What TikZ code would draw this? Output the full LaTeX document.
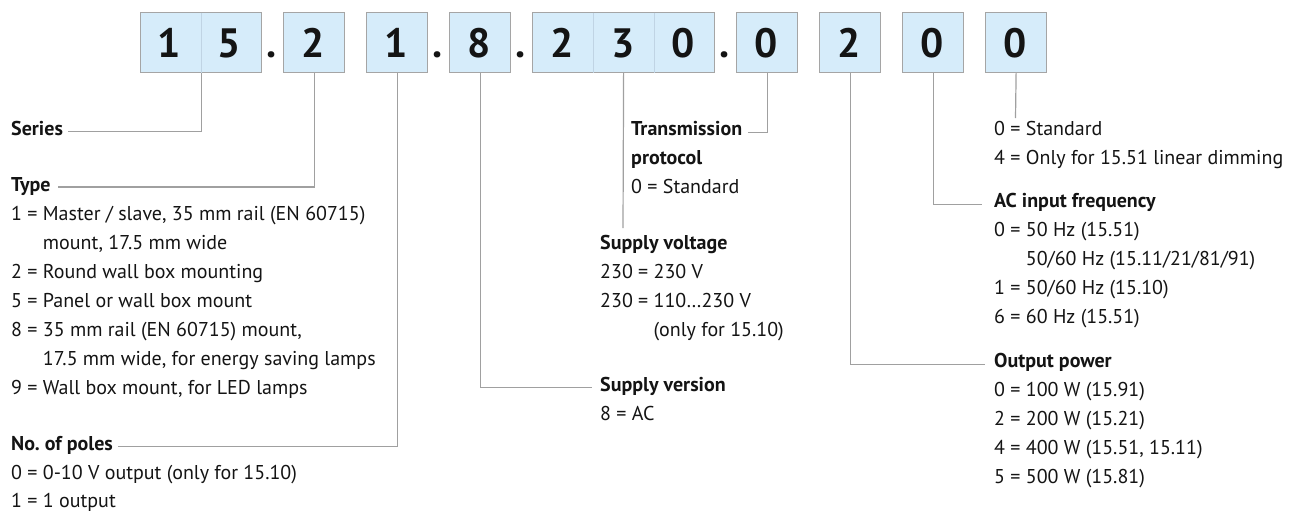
\documentclass[tikz,border=0pt]{standalone}
\usepackage{fontspec}
\setmainfont{PT Sans}
\usetikzlibrary{calc}
\definecolor{boxfill}{RGB}{214,236,250}
\definecolor{boxline}{RGB}{165,165,165}
\definecolor{connline}{RGB}{160,160,160}
\definecolor{divline}{RGB}{192,212,228}
\definecolor{ink}{RGB}{20,20,20}
\frenchspacing
\begin{document}
\begin{tikzpicture}[x=1pt,y=-1pt,
  digitbox/.style={draw=boxline, fill=boxfill, line width=1.2pt, minimum height=60pt, inner sep=0pt, anchor=north west},
  divider/.style={draw=divline, line width=1pt, shorten >=0.7pt, shorten <=0.7pt},
  digit/.style={font=\fontsize{41}{41}\selectfont\bfseries, anchor=base, inner sep=0pt, text=ink},
  conn/.style={draw=connline, line width=1.2pt},
  txt/.style={font=\fontsize{20}{24}\selectfont, anchor=base west, inner sep=0pt, text=ink},
  ttl/.style={font=\fontsize{20}{24}\selectfont\bfseries, anchor=base west, inner sep=0pt, text=ink},
]
\useasboundingbox (0,0) rectangle (1292,512);

% digit boxes
\node[digitbox, minimum width=121pt] (b15) at (140,12) {};
\node[digitbox, minimum width=61pt] (b2) at (283,12) {};
\node[digitbox, minimum width=61pt] (b1) at (366,12) {};
\node[digitbox, minimum width=61pt] (b8) at (449,12) {};
\node[digitbox, minimum width=182pt] (b230) at (532,12) {};
\node[digitbox, minimum width=61pt] (b0a) at (736,12) {};
\node[digitbox, minimum width=61pt] (b2b) at (819,12) {};
\node[digitbox, minimum width=61pt] (b0c) at (902,12) {};
\node[digitbox, minimum width=61pt] (b0d) at (985,12) {};

\draw[divider] (b15.north) -- (b15.south);
\draw[divider] ($(b230.north west)!1/3!(b230.north east)$) -- ($(b230.south west)!1/3!(b230.south east)$);
\draw[divider] ($(b230.north west)!2/3!(b230.north east)$) -- ($(b230.south west)!2/3!(b230.south east)$);

% digits
\node[digit] (d1) at (169,57) {1};
\node[digit] (d2) at (229,57) {5};
\node[digit] (d3) at (313.5,57) {2};
\node[digit] (d4) at (396.5,57) {1};
\node[digit] (d5) at (479.5,57) {8};
\node[digit] (d6) at (562.5,57) {2};
\node[digit] (d7) at (623,57) {3};
\node[digit] (d8) at (683.5,57) {0};
\node[digit] (d9) at (766.5,57) {0};
\node[digit] (d10) at (849.5,57) {2};
\node[digit] (d11) at (932.5,57) {0};
\node[digit] (d12) at (1015.5,57) {0};
% dots
\node[digit] (p1) at (272,57) {.};
\node[digit] (p2) at (438,57) {.};
\node[digit] (p3) at (520.5,57) {.};
\node[digit] (p4) at (725,57) {.};

% left column
\node[ttl] (series) at (11,135) {Series};
\node[ttl] (type) at (11,191) {Type};
\node[txt] (t1) at (11,220) {1 = Master / slave, 35 mm rail (EN 60715)};
\node[txt] (t1b) at (11,249) {\hphantom{1 = }mount, 17.5 mm wide};
\node[txt] (t2) at (11,278) {2 = Round wall box mounting};
\node[txt] (t5) at (11,307) {5 = Panel or wall box mount};
\node[txt] (t8) at (11,336) {8 = 35 mm rail (EN 60715) mount,};
\node[txt] (t8b) at (11,365) {\hphantom{8 = }17.5 mm wide, for energy saving lamps};
\node[txt] (t9) at (11,394) {9 = Wall box mount, for LED lamps};
\node[ttl] (poles) at (11,450) {No. of poles};
\node[txt] (pl0) at (11,479) {0 = 0-10 V output (only for 15.10)};
\node[txt] (pl1) at (11,507) {1 = 1 output};

% middle
\node[ttl] (tp1) at (631,135) {Transmission};
\node[ttl] (tp2) at (631,164) {protocol};
\node[txt] (tp3) at (631,193) {0 = Standard};
\node[ttl] (svt) at (600,249) {Supply voltage};
\node[txt] (sv1) at (600,278) {230 = 230 V};
\node[txt] (sv2) at (600,307) {230 = 110…230 V};
\node[txt] (sv3) at (600,336) {\hphantom{230 = }(only for 15.10)};
\node[ttl] (sver) at (600,391) {Supply version};
\node[txt] (sv8) at (600,420) {8 = AC};

% right column
\node[txt] (r1) at (994,135) {0 = Standard};
\node[txt] (r2) at (994,164) {4 = Only for 15.51 linear dimming};
\node[ttl] (acf) at (994,207) {AC input frequency};
\node[txt] (a0) at (994,236) {0 = 50 Hz (15.51)};
\node[txt] (a0b) at (994,265) {\hphantom{0 = }50/60 Hz (15.11/21/81/91)};
\node[txt] (a1) at (994,294) {1 = 50/60 Hz (15.10)};
\node[txt] (a6) at (994,323) {6 = 60 Hz (15.51)};
\node[ttl] (outp) at (994,367) {Output power};
\node[txt] (o0) at (994,396) {0 = 100 W (15.91)};
\node[txt] (o2) at (994,425) {2 = 200 W (15.21)};
\node[txt] (o4) at (994,454) {4 = 400 W (15.51, 15.11)};
\node[txt] (o5) at (994,483) {5 = 500 W (15.81)};

% free ends
\coordinate (svend) at (623,228);
\coordinate (stdend) at (1015.5,118);

% connectors
\draw[conn] (b15.south) |- ([xshift=5pt,yshift=1pt]series.mid east);
\draw[conn] (b2.south) |- ([xshift=7pt,yshift=1.5pt]type.mid east);
\draw[conn] (b1.south) |- ([xshift=5pt,yshift=1pt]poles.mid east);
\draw[conn] (b8.south) |- ([xshift=-8pt,yshift=1pt]sver.mid west);
\draw[conn] (b230.south) -- (svend);
\draw[conn] (b0a.south) |- ([xshift=6pt]tp1.mid east);
\draw[conn] (b2b.south) |- ([xshift=-9pt]outp.mid west);
\draw[conn] (b0c.south) |- ([xshift=-12pt]acf.mid west);
\draw[conn] (b0d.south) -- (stdend);
\end{tikzpicture}
\end{document}
